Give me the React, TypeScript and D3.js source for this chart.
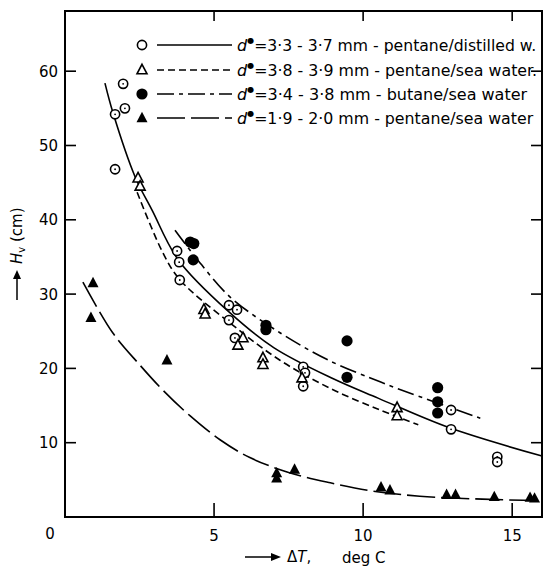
import React from "react";
import * as d3 from "d3";

// ---- data ----
const xTicks = [5, 10, 15];
const xTickLabels = ["5", "10", "15"];
const yTicks = [10, 20, 30, 40, 50, 60];
const yTickLabels = ["10", "20", "30", "40", "50", "60"];

// pentane / distilled water (open circle with dot)
const circlesX = [1.68, 2.01, 1.95, 1.68, 3.76, 3.83, 3.85, 5.5, 5.77, 5.5, 5.7, 7.99, 8.05, 7.99, 12.95, 12.95, 14.5, 14.5];
const circlesY = [54.2, 55.0, 58.3, 46.8, 35.8, 34.3, 31.9, 28.5, 27.9, 26.5, 24.1, 20.2, 19.4, 17.6, 14.4, 11.8, 8.1, 7.4];
// pentane / sea water (open triangle)
const triOpenX = [2.45, 2.52, 4.66, 4.7, 5.97, 5.8, 6.64, 6.64, 7.95, 11.14, 11.14];
const triOpenY = [45.6, 44.5, 27.9, 27.3, 24.1, 23.1, 21.4, 20.5, 18.7, 14.7, 13.6];
// butane / sea water (filled circle)
const dotsX = [4.2, 4.32, 4.3, 6.74, 6.74, 9.46, 9.46, 12.5, 12.5, 12.5];
const dotsY = [37.0, 36.8, 34.6, 25.8, 25.2, 23.7, 18.8, 17.4, 15.5, 14.0];
// pentane / sea water 1.9-2.0 (filled triangle)
const triFillX = [0.94, 0.87, 3.42, 7.1, 7.1, 7.7, 10.6, 10.9, 12.8, 13.1, 14.4, 15.6, 15.75];
const triFillY = [31.5, 26.8, 21.1, 5.9, 5.2, 6.4, 4.0, 3.6, 3.0, 3.0, 2.7, 2.6, 2.5];

// fitted curves
const curve1X = [1.34, 1.61, 2.35, 2.92, 3.8, 5.5, 7.0, 9.0, 10.5, 12.9, 16.0];
const curve1Y = [58.4, 54.4, 45.8, 41.3, 34.6, 27.6, 22.8, 18.6, 16.0, 12.0, 8.2];
const curve2X = [2.42, 3.29, 3.86, 5.54, 7.21, 8.9, 10.57, 11.85];
const curve2Y = [43.7, 35.5, 31.9, 26.1, 21.1, 17.3, 14.4, 12.4];
const curve3X = [3.69, 4.53, 5.54, 7.21, 8.89, 10.57, 11.14, 13.93];
const curve3Y = [38.6, 34.2, 29.6, 24.8, 21.0, 18.2, 17.3, 13.3];
const curve4X = [0.6, 1.6, 2.5, 3.3, 4.2, 5.2, 6.2, 7.5, 8.9, 10.3, 11.9, 14.0, 16.0];
const curve4Y = [31.6, 24.8, 20.5, 17.0, 13.6, 10.4, 8.0, 6.0, 4.6, 3.5, 2.8, 2.4, 2.2];

const legendLabels = [
  "=3·3 - 3·7 mm - pentane/distilled w.",
  "=3·8 - 3·9 mm - pentane/sea water.",
  "=3·4 - 3·8 mm - butane/sea water",
  "=1·9 - 2·0 mm - pentane/sea water",
];

const W = 544;
const H = 569;
const left = 65, right = 542, top = 11, bottom = 517;
const x = d3.scaleLinear().domain([0, 16]).range([left, right]);
const y = d3.scaleLinear().domain([0, 68.1]).range([bottom, top]);

const FONT = "'DejaVu Sans', 'Liberation Sans', sans-serif";
const dashes = ["", "7,4", "17,5,4,5", "28,6"];

function pts(xs: number[], ys: number[]): [number, number][] {
  return xs.map((v, i) => [v, ys[i]]);
}

const line = d3
  .line<[number, number]>()
  .x((d) => x(d[0]))
  .y((d) => y(d[1]))
  .curve(d3.curveCatmullRom.alpha(0.5));

function triPath(cx: number, cy: number, s: number) {
  const h = s * 0.95;
  return `M${cx},${cy - h * 0.6} L${cx + s / 2},${cy + h * 0.4} L${cx - s / 2},${cy + h * 0.4} Z`;
}

function Marker({ kind, cx, cy, legend }: { kind: number; cx: number; cy: number; legend?: boolean }) {
  if (kind === 0)
    return (
      <g>
        <circle cx={cx} cy={cy} r={4.6} fill="white" stroke="black" strokeWidth={1.6} />
        {!legend && <circle cx={cx} cy={cy} r={0.9} fill="black" />}
      </g>
    );
  if (kind === 1) return <path d={triPath(cx, cy, 10)} fill="white" stroke="black" strokeWidth={1.6} />;
  if (kind === 2) return <circle cx={cx} cy={cy} r={5.6} fill="black" />;
  return <path d={triPath(cx, cy, 11)} fill="black" />;
}

export default function App() {
  const curves = [pts(curve1X, curve1Y), pts(curve2X, curve2Y), pts(curve3X, curve3Y), pts(curve4X, curve4Y)];
  const series = [pts(circlesX, circlesY), pts(triOpenX, triOpenY), pts(dotsX, dotsY), pts(triFillX, triFillY)];
  const legendY = [45, 70, 94, 118];
  const legendEnd = [536, 537, 527, 533];

  return (
    <svg width={W} height={H} style={{ position: "absolute", left: 0, top: 0, background: "white" }} fontFamily={FONT}>
      <rect x={0} y={0} width={W} height={H} fill="white" />
      {/* curves */}
      {curves.map((c, i) => (
        <path key={i} d={line(c) || ""} fill="none" stroke="black" strokeWidth={1.6} strokeDasharray={dashes[i]} />
      ))}
      {/* points */}
      {series.map((s, k) => (
        <g key={k}>
          {s.map((p, i) => (
            <Marker key={i} kind={k} cx={x(p[0])} cy={y(p[1])} />
          ))}
        </g>
      ))}
      {/* frame */}
      <rect x={left} y={top} width={right - left} height={bottom - top} fill="none" stroke="black" strokeWidth={2} />
      {/* ticks */}
      {xTicks.map((t) => (
        <g key={t}>
          <line x1={x(t)} x2={x(t)} y1={bottom} y2={bottom - 14} stroke="black" strokeWidth={1.6} />
          <line x1={x(t)} x2={x(t)} y1={top} y2={top + 10} stroke="black" strokeWidth={1.6} />
        </g>
      ))}
      {yTicks.map((t) => (
        <g key={t}>
          <line x1={left} x2={left + 11} y1={y(t)} y2={y(t)} stroke="black" strokeWidth={1.6} />
          <line x1={right} x2={right - 11} y1={y(t)} y2={y(t)} stroke="black" strokeWidth={1.6} />
        </g>
      ))}
      {/* tick labels */}
      {xTicks.map((t, i) => (
        <text key={t} x={x(t)} y={541} fontSize={15} textAnchor="middle">
          {xTickLabels[i]}
        </text>
      ))}
      <text x={50} y={539} fontSize={15} textAnchor="middle">0</text>
      {yTicks.map((t, i) => (
        <text key={t} x={58} y={y(t) + 5.5} fontSize={15} textAnchor="end">
          {yTickLabels[i]}
        </text>
      ))}
      {/* y title */}
      <g transform="translate(22,300) rotate(-90)">
        <line x1={0} x2={22} y1={-5} y2={-5} stroke="black" strokeWidth={1.5} />
        <path d="M30,-5 L21,-9 L21,-1 Z" fill="black" />
        <text x={36} y={0} fontSize={15}>
          <tspan fontStyle="italic">H</tspan>
          <tspan fontSize={10} dy={3}>v</tspan>
          <tspan dy={-3}> (cm)</tspan>
        </text>
      </g>
      {/* x title */}
      <line x1={245} x2={272} y1={557} y2={557} stroke="black" strokeWidth={1.5} />
      <path d="M281,557 L271,553 L271,561 Z" fill="black" />
      <text x={287} y={562} fontSize={15}>
        Δ<tspan fontStyle="italic">T</tspan>,
      </text>
      <text x={342} y={563} fontSize={15}>deg C</text>
      {/* legend */}
      {legendLabels.map((lab, i) => (
        <g key={i}>
          <Marker kind={i} cx={142} cy={legendY[i]} legend />
          <line x1={157} x2={232} y1={legendY[i]} y2={legendY[i]} stroke="black" strokeWidth={1.6} strokeDasharray={dashes[i]} />
          <text x={237} y={legendY[i] + 6} fontSize={16}>
            <tspan fontStyle="italic">d</tspan>
            <tspan fontSize={8} dy={-8}>●</tspan>
            <tspan dy={8} textLength={legendEnd[i] - 254} lengthAdjust="spacingAndGlyphs">{lab}</tspan>
          </text>
        </g>
      ))}
    </svg>
  );
}
